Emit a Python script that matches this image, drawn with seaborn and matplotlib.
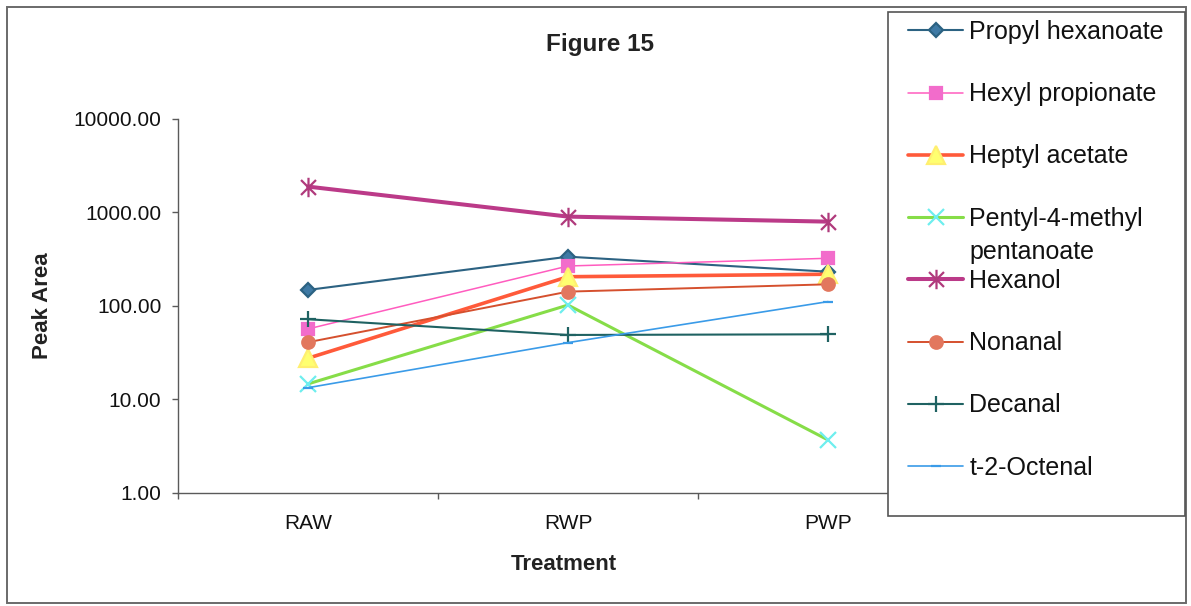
import matplotlib
matplotlib.use("Agg")
import matplotlib.pyplot as plt
from matplotlib.patches import Rectangle
from matplotlib.path import Path
from matplotlib.text import Annotation
from matplotlib.ticker import FixedLocator, NullLocator, FuncFormatter
import numpy as np
import pandas as pd
import seaborn as sns

# Treatments on the x axis
treatments = ["RAW", "RWP", "PWP"]

# Peak areas per compound (RAW, RWP, PWP)
propyl_hexanoate = [148, 336, 232]
hexyl_propionate = [56.6, 267, 323]
heptyl_acetate = [27.5, 205, 218]
pentyl_4_methyl_pentanoate = [14.6, 102, 3.67]
hexanol = [1890, 902, 797]
nonanal = [40.8, 142, 170]
decanal = [71.9, 48.8, 49.6]
t_2_octenal = [13.3, 40.4, 111]

compounds = ["Propyl hexanoate", "Hexyl propionate", "Heptyl acetate",
             "Pentyl-4-methyl", "Hexanol", "Nonanal", "Decanal", "t-2-Octenal"]
series = [propyl_hexanoate, hexyl_propionate, heptyl_acetate,
          pentyl_4_methyl_pentanoate, hexanol, nonanal, decanal, t_2_octenal]

y_ticks = [1, 10, 100, 1000, 10000]

df = pd.DataFrame({
    "Treatment": treatments * len(compounds),
    "Compound": np.repeat(compounds, len(treatments)),
    "Peak Area": np.concatenate(series),
})

# asterisk marker: an X crossed by a vertical stroke
asterisk = Path([(-1, -1), (1, 1), (-1, 1), (1, -1), (0, -1.3), (0, 1.3)],
                [Path.MOVETO, Path.LINETO, Path.MOVETO, Path.LINETO,
                 Path.MOVETO, Path.LINETO])

# line colour, line width, marker, marker size, marker face, marker edge
styles = {
    "Propyl hexanoate": ("#2c6282", 1.5, "D", 7, "#3f7aa5", "#2c6282"),
    "Hexyl propionate": ("#ff5cbf", 1.1, "s", 8, "#f26ccb", "#f26ccb"),
    "Heptyl acetate": ("#ff5a3a", 2.6, "^", 13, "#ffff70", "#ffef70"),
    "Pentyl-4-methyl": ("#86dd48", 2.2, "x", 12, "#6eeeee", "#6eeeee"),
    "Hexanol": ("#bb3a88", 2.9, asterisk, 14, "#b03a7c", "#b03a7c"),
    "Nonanal": ("#d5502e", 1.4, "o", 9, "#e2775e", "#e2775e"),
    "Decanal": ("#1f6262", 1.5, "+", 12, "#1f6262", "#1f6262"),
    "t-2-Octenal": ("#3a9be8", 1.2, "_", 7, "#3a9be8", "#3a9be8"),
}

sns.set_style("white")
plt.rcParams["font.family"] = ["Liberation Sans", "DejaVu Sans"]

W, H = 1191, 606
fig = plt.figure(figsize=(W / 100, H / 100), dpi=100)
ax = fig.add_axes([178 / W, 1 - 492.7 / H, 780 / W, 373.7 / H])
ax.set_facecolor("none")

for name in compounds:
    color, lw, marker, ms, mfc, mec = styles[name]
    sns.lineplot(data=df[df["Compound"] == name], x="Treatment", y="Peak Area",
                 ax=ax, sort=False, color=color, linewidth=lw, marker=marker,
                 markersize=ms, markerfacecolor=mfc, markeredgecolor=mec,
                 markeredgewidth=1.6, label=name)

ax.set_yscale("log")
ax.set_ylim(1, 10000)
ax.yaxis.set_major_locator(FixedLocator(y_ticks))
ax.yaxis.set_minor_locator(NullLocator())
ax.yaxis.set_major_formatter(FuncFormatter(lambda v, p: f"{v:.2f}"))
ax.set_xlim(-0.5, 2.5)
ax.set_xticks(range(len(treatments)))
ax.set_xticklabels(treatments)
ax.set_xticks([-0.5, 0.5, 1.5, 2.5], minor=True)

for side in ("top", "right"):
    ax.spines[side].set_visible(False)
for side in ("left", "bottom"):
    ax.spines[side].set_color("#5a5a5a")
    ax.spines[side].set_linewidth(1.0)

ax.tick_params(axis="y", which="major", direction="out", length=4, width=1,
               color="#5a5a5a", pad=8, labelsize=15, labelcolor="#111111", left=True)
ax.tick_params(axis="x", which="major", length=0, pad=15, labelsize=15,
               labelcolor="#111111")
ax.tick_params(axis="x", which="minor", direction="out", length=4, width=1,
               color="#5a5a5a", bottom=True)

ax.set_ylabel("Peak Area", fontsize=16, fontweight="bold", va="center",
              color="#222222")
ax.yaxis.set_label_coords((43 - 178) / 780, 0.5)
ax.set_xlabel("Treatment", fontsize=16, fontweight="bold", va="center",
              color="#222222")
ax.xaxis.set_label_coords((564 - 178) / 780, (492.7 - 565) / 373.7)

fig.text(600 / W, 1 - 45 / H, "Figure 15", ha="center", va="center",
         fontsize=17.5, fontweight="bold", color="#222222")

# Legend to the right, over the plot area's right edge
handles, labels = ax.get_legend_handles_labels()
ax.get_legend().remove()
fig.patches.append(Rectangle((888 / W, 1 - 516 / H), 297 / W, 504 / H,
                             transform=fig.transFigure, facecolor="white",
                             edgecolor="#555555", linewidth=1.2, zorder=4))
leg = fig.legend(handles, labels, loc="upper left",
                 bbox_to_anchor=(903 / W, 1 - 15 / H), frameon=False,
                 fontsize=18, handlelength=2.2, handletextpad=0.25,
                 labelspacing=1.53, borderaxespad=0, borderpad=0.2)
leg.set_zorder(5)
for t in leg.get_texts():
    t.set_color("#111111")

# second line of the fourth legend label
pent_text = leg.get_texts()[3]
cont = Annotation("pentanoate", xy=(0, 0.5), xycoords=pent_text,
                  xytext=(0, -33), textcoords="offset pixels",
                  ha="left", va="center", fontsize=18, color="#111111")
cont.set_zorder(6)
fig.add_artist(cont)

# outer chart border
fig.patches.append(Rectangle((7 / W, 1 - 603 / H), 1179 / W, 596 / H,
                             transform=fig.transFigure, facecolor="none",
                             edgecolor="#6a6a6a", linewidth=1.4, zorder=0))

fig.savefig("out.png", dpi=100)
